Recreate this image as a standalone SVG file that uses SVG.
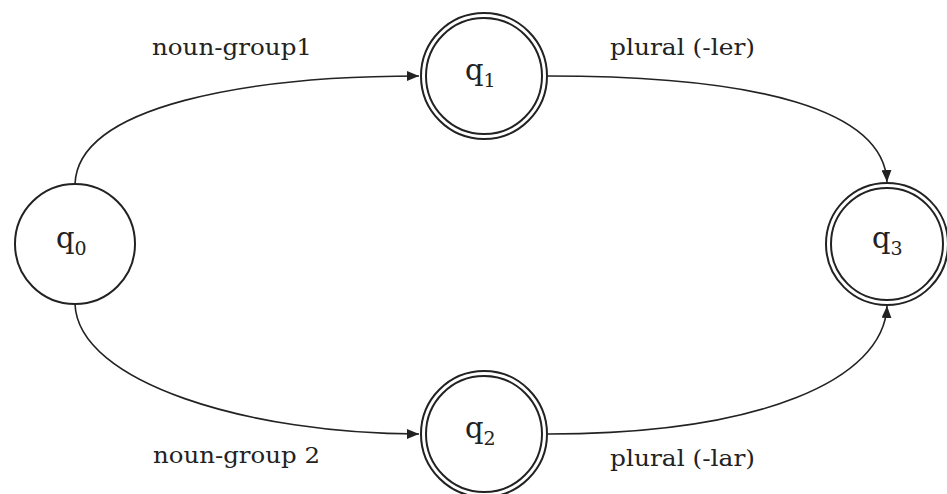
<svg xmlns="http://www.w3.org/2000/svg" width="947" height="494" viewBox="0 0 947 494">
<style>
.st{fill:#fff;stroke:#222;stroke-width:2}
.in{fill:none;stroke:#222;stroke-width:2}
.e{fill:none;stroke:#222;stroke-width:1.6;marker-end:url(#ah)}
.lbl{font-family:"DejaVu Serif","Liberation Serif",serif;font-size:23px;fill:#222}
.q{font-family:"DejaVu Serif","Liberation Serif",serif;font-size:29px;fill:#222}
.sub{font-size:19px}
</style>
<defs>
<marker id="ah" viewBox="0 0 12 10" refX="12" refY="5" markerWidth="12" markerHeight="10" markerUnits="userSpaceOnUse" orient="auto">
<path d="M0,0 L12,5 L0,10 Z" fill="#222"/>
</marker>
</defs>
<rect width="947" height="494" fill="#fff"/>
<g id="connectors">
<path class="e" d="M75,184 C78,105 250,76 419,76"/>
<path class="e" d="M548,76 C760,76 884,110 887,182"/>
<path class="e" d="M75,304 C78,383 250,434 419,434"/>
<path class="e" d="M548,434 C760,434 884,380 887,306"/>
</g>
<g id="q0">
<circle class="st" cx="75" cy="244" r="60"/>
<text class="q" x="56" y="248">q<tspan class="sub" dy="7">0</tspan></text>
</g>
<g id="q1">
<circle class="st" cx="484" cy="76" r="63"/>
<circle class="in" cx="484" cy="76" r="58"/>
<text class="q" x="465" y="80">q<tspan class="sub" dy="7">1</tspan></text>
</g>
<g id="q2">
<circle class="st" cx="484" cy="434" r="63"/>
<circle class="in" cx="484" cy="434" r="58"/>
<text class="q" x="465" y="438">q<tspan class="sub" dy="7">2</tspan></text>
</g>
<g id="q3">
<circle class="st" cx="887" cy="244" r="61"/>
<circle class="in" cx="887" cy="244" r="56"/>
<text class="q" x="872" y="248">q<tspan class="sub" dy="7">3</tspan></text>
</g>
<g id="labels">
<text class="lbl" x="152" y="55" textLength="160" lengthAdjust="spacingAndGlyphs">noun-group1</text>
<text class="lbl" x="610" y="55" textLength="145" lengthAdjust="spacingAndGlyphs">plural (-ler)</text>
<text class="lbl" x="153" y="463" textLength="167" lengthAdjust="spacingAndGlyphs">noun-group 2</text>
<text class="lbl" x="610" y="466" textLength="145" lengthAdjust="spacingAndGlyphs">plural (-lar)</text>
</g>
</svg>
